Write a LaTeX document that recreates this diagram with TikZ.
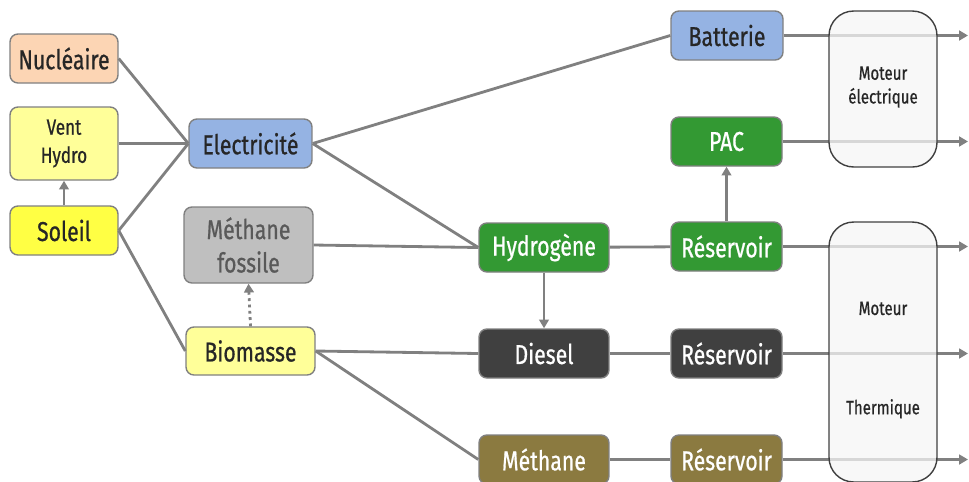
\documentclass[tikz,border=0pt]{standalone}
\usepackage{fontspec}
\setmainfont{Fira Sans}[FakeStretch=0.78, FakeBold=0.7]
\usetikzlibrary{arrows.meta}

\definecolor{peche}{HTML}{FCD5B4}
\definecolor{jaunepale}{HTML}{FFFF99}
\definecolor{jaune}{HTML}{FFFF44}
\definecolor{bleu}{HTML}{95B3E3}
\definecolor{grisclair}{HTML}{BFBFBF}
\definecolor{vert}{HTML}{339933}
\definecolor{sombre}{HTML}{404040}
\definecolor{olive}{HTML}{8B7A40}
\definecolor{trait}{HTML}{808080}
\definecolor{encre}{HTML}{262626}

\begin{document}
\begin{tikzpicture}[x=0.02cm, y=-0.02cm,
    boite/.style={draw=trait, line width=0.8pt, rounded corners=4.5pt, align=center,
        inner sep=0pt, minimum height=0.98cm, text=encre,
        font=\fontsize{15.5}{19}\selectfont},
    lien/.style={draw=trait, line width=1.6pt},
    fleche/.style={lien, -{Triangle[length=5pt,width=5.5pt]}},
    moteur/.style={draw=sombre, line width=0.8pt, rounded corners=14pt,
        fill=black!4, fill opacity=0.75, minimum width=2.16cm},
    petit/.style={align=center, text=encre, font=\fontsize{11}{13.5}\selectfont}]
    \useasboundingbox (0,0) rectangle (969,481);

    % Sources
    \node[boite, fill=peche, minimum width=2.16cm] (nucl) at (64,58.5) {Nucléaire};
    \node[boite, fill=jaunepale, minimum width=2.16cm, minimum height=1.46cm,
        font=\fontsize{12.5}{16}\selectfont] (vent) at (64,143.5) {Vent\\Hydro};
    \node[boite, fill=jaune, minimum width=2.16cm] (sol) at (64,230.5) {Soleil};

    % Vecteurs
    \node[boite, fill=bleu, minimum width=2.46cm] (elec) at (250.5,143.5) {Electricité};
    \node[boite, fill=grisclair, text=black!65, minimum width=2.58cm,
        minimum height=1.52cm] (fossile) at (248.5,245) {Méthane\\fossile};
    \node[boite, fill=jaunepale, minimum width=2.58cm, minimum height=0.96cm] (bio) at (250.5,351) {Biomasse};

    % Carburants
    \node[boite, fill=vert, text=white, minimum width=2.6cm] (hydro) at (544,247.5) {Hydrogène};
    \node[boite, fill=sombre, text=white, minimum width=2.6cm] (diesel) at (544,353.5) {Diesel};
    \node[boite, fill=olive, text=white, minimum width=2.6cm] (meth) at (544,459.5) {Méthane};

    % Stockage
    \node[boite, fill=bleu, minimum width=2.24cm] (batt) at (727,35.5) {Batterie};
    \node[boite, fill=vert, text=white, minimum width=2.22cm] (pac) at (726.5,141.5) {PAC};
    \node[boite, fill=vert, text=white, minimum width=2.22cm] (res1) at (726.5,246.5) {Réservoir};
    \node[boite, fill=sombre, text=white, minimum width=2.22cm] (res2) at (726.5,353.5) {Réservoir};
    \node[boite, fill=olive, text=white, minimum width=2.22cm] (res3) at (726.5,459.5) {Réservoir};

    % Liens
    \draw[lien] (nucl.east) -- (elec.west);
    \draw[lien] (vent.east) -- (elec.west);
    \draw[lien] (sol.east) -- (elec.west);
    \draw[lien] (sol.east) -- (bio.west);
    \draw[fleche] (sol.north) -- (vent.south);
    \draw[lien] (elec.east) -- (batt.west);
    \draw[lien] (elec.east) -- (hydro.west);
    \draw[lien] (fossile.east) -- (hydro.west);
    \draw[fleche, dotted] (bio.north) -- (fossile.south);
    \draw[lien] (bio.east) -- (diesel.west);
    \draw[lien] (bio.east) -- (meth.west);
    \draw[fleche] (hydro.south) -- (diesel.north);
    \draw[lien] (hydro) -- (res1);
    \draw[lien] (diesel) -- (res2);
    \draw[lien] (meth) -- (res3);
    \draw[fleche] (res1.north) -- (pac.south);

    % Sorties vers la droite
    \coordinate (bord) at (968,0);
    \foreach \s in {batt, pac, res1, res2, res3}
        \draw[fleche] (\s.east) -- (\s.east -| bord);

    % Moteurs
    \node[moteur, minimum height=3.12cm] (melec) at (883,89) {};
    \node[petit] (melectxt) at (883,87) {Moteur\\électrique};
    \node[moteur, minimum height=5.2cm] (mtherm) at (883,352) {};
    \node[petit] (mthermtxt) at (883,360) {Moteur\\[43pt]Thermique};
\end{tikzpicture}
\end{document}
